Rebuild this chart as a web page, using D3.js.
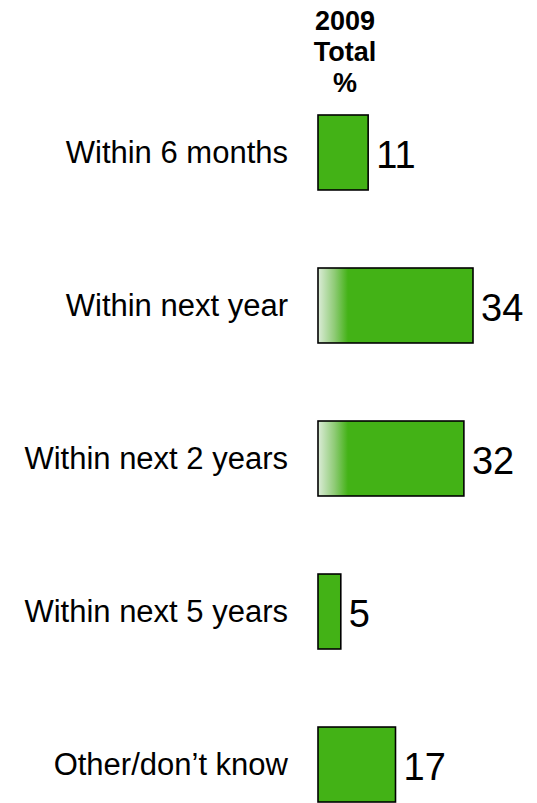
<!DOCTYPE html>
<html>
<head>
<meta charset="utf-8">
<script src="https://cdn.jsdelivr.net/npm/d3@7"></script>
<style>
  html, body { margin: 0; padding: 0; background: #ffffff; }
  svg { display: block; }
</style>
</head>
<body>
<script>
const categories = ["Within 6 months", "Within next year", "Within next 2 years", "Within next 5 years", "Other/don\u2019t know"];
const values = [11, 34, 32, 5, 17];
const headerLines = ["2009", "Total", "%"];

const W = 537, H = 803;
const svg = d3.select("body").append("svg").attr("width", W).attr("height", H)
  .style("font-family", "Arial, 'Liberation Sans', sans-serif");

const x = d3.scaleLinear().domain([0, 34]).range([318, 473]);
const y = d3.scaleBand().domain(categories).range([115, 802]).paddingInner(0.51).paddingOuter(0);

const green = "#43b216";
const fadedBars = new Set(["Within next year", "Within next 2 years"]);

const defs = svg.append("defs");
categories.forEach((c, i) => {
  if (!fadedBars.has(c)) return;
  const g = defs.append("linearGradient").attr("id", "fade" + i)
    .attr("gradientUnits", "userSpaceOnUse")
    .attr("x1", x(0)).attr("x2", x(0) + 30).attr("y1", 0).attr("y2", 0);
  g.append("stop").attr("offset", 0).attr("stop-color", "#dcecd8");
  g.append("stop").attr("offset", 0.55).attr("stop-color", "#8fcb76");
  g.append("stop").attr("offset", 1).attr("stop-color", green);
});

// header
svg.append("g").selectAll("text").data(headerLines).join("text")
  .attr("x", 345).attr("y", (d, i) => 30 + i * 31)
  .attr("text-anchor", "middle")
  .attr("font-size", 27).attr("font-weight", "bold").attr("fill", "#000")
  .text(d => d);

// category labels
svg.append("g").selectAll("text").data(categories).join("text")
  .attr("x", 288).attr("y", d => y(d) + y.bandwidth() / 2)
  .attr("dy", "0.35em")
  .attr("text-anchor", "end")
  .attr("font-size", 31).attr("fill", "#000")
  .text(d => d);

// bars
svg.append("g").selectAll("rect").data(values).join("rect")
  .attr("x", x(0))
  .attr("y", (d, i) => y(categories[i]))
  .attr("width", d => x(d) - x(0))
  .attr("height", y.bandwidth())
  .attr("fill", (d, i) => fadedBars.has(categories[i]) ? `url(#fade${i})` : green)
  .attr("stroke", "#000").attr("stroke-width", 1.6);

// value labels
svg.append("g").selectAll("text").data(values).join("text")
  .attr("x", d => x(d) + 8)
  .attr("y", (d, i) => y(categories[i]) + y.bandwidth() / 2 + 2)
  .attr("dy", "0.36em")
  .attr("font-size", 38).attr("fill", "#000")
  .text(d => d);
</script>
</body>
</html>
